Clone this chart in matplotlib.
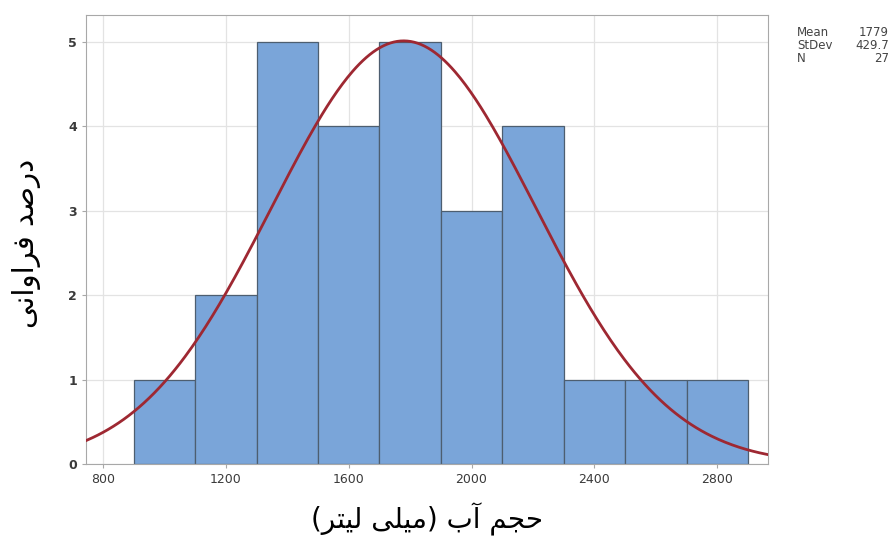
import numpy as np
import matplotlib
matplotlib.use("Agg")
import matplotlib.pyplot as plt

# histogram bins (ml) and counts
bin_edges = [900, 1100, 1300, 1500, 1700, 1900, 2100, 2300, 2500, 2700, 2900]
counts = [1, 2, 5, 4, 5, 3, 4, 1, 1, 1]
mean_val = 1779
std_val = 429.7
n_obs = 27

x_ticks = [800, 1200, 1600, 2000, 2400, 2800]
y_ticks = [0, 1, 2, 3, 4, 5]
x_label = "حجم آب (میلی لیتر)"
y_label = "درصد فراوانی"

# presentation forms: isolated, final, initial, medial (None = right-joining only)
FORMS = {
    "\u0627": ("\uFE8D", "\uFE8E", None, None),
    "\u0622": ("\uFE81", "\uFE82", None, None),
    "\u0628": ("\uFE8F", "\uFE90", "\uFE91", "\uFE92"),
    "\u062A": ("\uFE95", "\uFE96", "\uFE97", "\uFE98"),
    "\u062C": ("\uFE9D", "\uFE9E", "\uFE9F", "\uFEA0"),
    "\u062D": ("\uFEA1", "\uFEA2", "\uFEA3", "\uFEA4"),
    "\u062F": ("\uFEA9", "\uFEAA", None, None),
    "\u0631": ("\uFEAD", "\uFEAE", None, None),
    "\u0635": ("\uFEB9", "\uFEBA", "\uFEBB", "\uFEBC"),
    "\u0641": ("\uFED1", "\uFED2", "\uFED3", "\uFED4"),
    "\u0644": ("\uFEDD", "\uFEDE", "\uFEDF", "\uFEE0"),
    "\u0645": ("\uFEE1", "\uFEE2", "\uFEE3", "\uFEE4"),
    "\u0646": ("\uFEE5", "\uFEE6", "\uFEE7", "\uFEE8"),
    "\u0648": ("\uFEED", "\uFEEE", None, None),
    "\u06CC": ("\uFBFC", "\uFBFD", "\uFBFE", "\uFBFF"),
}


def shape_rtl(text):
    out = []
    for i, ch in enumerate(text):
        if ch not in FORMS:
            out.append(ch)
            continue
        prev = text[i - 1] if i > 0 else ""
        nxt = text[i + 1] if i + 1 < len(text) else ""
        join_prev = prev in FORMS and FORMS[prev][2] is not None
        join_next = FORMS[ch][2] is not None and nxt in FORMS
        iso, fin, ini, med = FORMS[ch]
        if join_prev and join_next:
            out.append(med)
        elif join_prev:
            out.append(fin)
        elif join_next:
            out.append(ini)
        else:
            out.append(iso)
    vis = "".join(reversed(out))
    return vis.translate(str.maketrans("()", ")("))


plt.rcParams["font.family"] = ["DejaVu Sans"]

fig = plt.figure(figsize=(8.92, 5.42), dpi=100)
ax = fig.add_axes([86 / 892, 1 - 464 / 542, (768 - 86) / 892, (464 - 15) / 542])

edges = np.array(bin_edges)
ax.bar(edges[:-1], counts, width=np.diff(edges), align="edge",
       color="#7AA5D9", edgecolor="#4D5E70", linewidth=0.9, zorder=2)

xs = np.linspace(745, 2965, 400)
binw = edges[1] - edges[0]
pdf = n_obs * binw / (std_val * np.sqrt(2 * np.pi)) * np.exp(-0.5 * ((xs - mean_val) / std_val) ** 2)
ax.plot(xs, pdf, color="#9E2832", lw=2.0, zorder=3)

ax.set_xlim(745, 2965)
ax.set_ylim(0, 5.32)
ax.set_xticks(x_ticks)
ax.set_yticks(y_ticks)
ax.grid(True, color="#E3E3E3", lw=0.9, zorder=0)
ax.set_axisbelow(True)
for s in ax.spines.values():
    s.set_color("#A8A8A8")
ax.tick_params(colors="#A8A8A8", labelcolor="#3A3A3A", labelsize=9, length=3)
for lbl in ax.get_yticklabels():
    lbl.set_fontweight("bold")

fig.text(427 / 892, 1 - 519 / 542, shape_rtl(x_label), ha="center", va="center", fontsize=20)
fig.text(27 / 892, 1 - 243 / 542, shape_rtl(y_label), ha="center", va="center",
         fontsize=21, rotation=90)

stats = [("Mean", f"{mean_val}"), ("StDev", f"{std_val}"), ("N", f"{n_obs}")]
for i, (k, v) in enumerate(stats):
    y = 1 - (33 + i * 12.5) / 542
    fig.text(797 / 892, y, k, ha="left", va="center", fontsize=8.5, color="#444444")
    fig.text(889 / 892, y, v, ha="right", va="center", fontsize=8.5, color="#444444")

fig.savefig("out.png", dpi=100)
